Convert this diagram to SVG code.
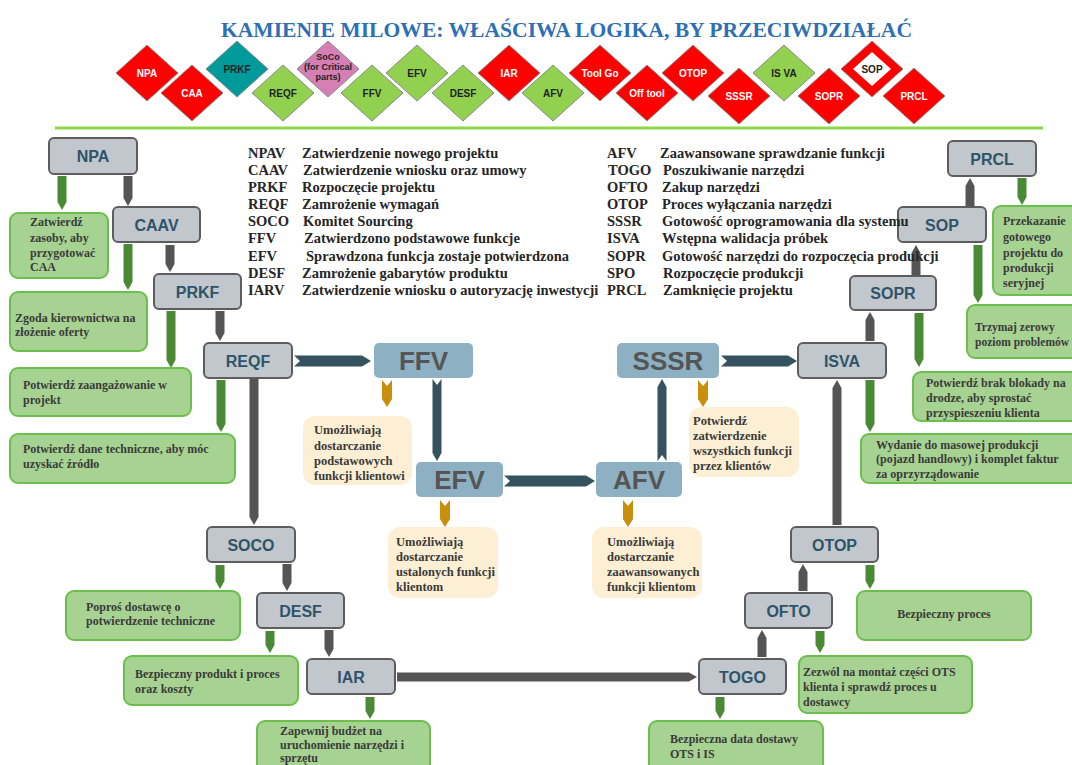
<svg xmlns="http://www.w3.org/2000/svg" width="1072" height="765" viewBox="0 0 1072 765">
<defs>
<style>
.title{font-family:"Liberation Serif",serif;font-weight:bold;font-size:21.6px;fill:#2e6fb5}
.dm{stroke:#8a8a8a;stroke-width:1}
.red{fill:#ff0000}.grn{fill:#92d050}.teal{fill:#009a9a}.pink{fill:#d67fb5}
.dtw{font-family:"Liberation Sans",Arial,sans-serif;font-weight:bold;font-size:10px;fill:#fff;text-anchor:middle}
.dtk{font-family:"Liberation Sans",Arial,sans-serif;font-weight:bold;font-size:10px;fill:#222;text-anchor:middle}
.leg{font-family:"Liberation Serif",serif;font-weight:bold;font-size:14.5px;fill:#262626}
.gb{fill:#c1c7cd;stroke:#5d5d5d;stroke-width:2}
.gbt{font-family:"Liberation Sans",Arial,sans-serif;font-weight:bold;font-size:16px;fill:#2e5468;text-anchor:middle}
.bb{fill:#8db0c2}
.bbt{font-family:"Liberation Sans",Arial,sans-serif;font-weight:bold;font-size:26px;fill:#555;text-anchor:middle}
.yb{fill:#fdefd3}
.gn{fill:#a6d392;stroke:#6cbf4c;stroke-width:2}
.tx{font-family:"Liberation Serif",serif;font-weight:bold;font-size:12px;fill:#3a3a3a}
.ty{font-family:"Liberation Serif",serif;font-weight:bold;font-size:12.5px;fill:#3a3a3a}
.ga{fill:#4a8a35}
.da{fill:#555}
.ta{fill:#34525f}
.oa{fill:#c98f0c}
</style>
</defs>
<rect width="1072" height="765" fill="#fff"/>
<text class="title" x="566.5" y="37" text-anchor="middle">KAMIENIE MILOWE: WŁAŚCIWA LOGIKA, BY PRZECIWDZIAŁAĆ</text>

<g id="milestones">
<g id="m-npa"><polygon class="dm red" points="147,45 178,73 147,101 116,73"/><text class="dtw" x="147" y="77">NPA</text></g>
<g id="m-caa"><polygon class="dm red" points="192,65 223,93 192,121 161,93"/><text class="dtw" x="192" y="97">CAA</text></g>
<g id="m-prkf"><polygon class="dm teal" points="237,41 268,69 237,97 206,69"/><text class="dtk" x="237" y="73">PRKF</text></g>
<g id="m-reqf"><polygon class="dm grn" points="283,65 314,93 283,121 252,93"/><text class="dtk" x="283" y="97">REQF</text></g>
<g id="m-soco"><polygon class="dm pink" points="328,41 359,69 328,97 297,69"/><text class="dtk" x="328" y="60" style="font-size:9px">SoCo</text><text class="dtk" x="328" y="70" style="font-size:9px">(for Critical</text><text class="dtk" x="328" y="80" style="font-size:9px">parts)</text></g>
<g id="m-ffv"><polygon class="dm grn" points="372,65 403,93 372,121 341,93"/><text class="dtk" x="372" y="97">FFV</text></g>
<g id="m-efv"><polygon class="dm grn" points="417,45 448,73 417,101 386,73"/><text class="dtk" x="417" y="77">EFV</text></g>
<g id="m-desf"><polygon class="dm grn" points="463,65 494,93 463,121 432,93"/><text class="dtk" x="463" y="97">DESF</text></g>
<g id="m-iar"><polygon class="dm red" points="509,45 540,73 509,101 478,73"/><text class="dtw" x="509" y="77">IAR</text></g>
<g id="m-afv"><polygon class="dm grn" points="553,65 584,93 553,121 522,93"/><text class="dtk" x="553" y="97">AFV</text></g>
<g id="m-toolgo"><polygon class="dm red" points="600,45 631,73 600,101 569,73"/><text class="dtw" x="600" y="77">Tool Go</text></g>
<g id="m-offtool"><polygon class="dm red" points="647,65 678,93 647,121 616,93"/><text class="dtw" x="647" y="97">Off tool</text></g>
<g id="m-otop"><polygon class="dm red" points="693,45 724,73 693,101 662,73"/><text class="dtw" x="693" y="77">OTOP</text></g>
<g id="m-sssr"><polygon class="dm red" points="739,68 770,96 739,124 708,96"/><text class="dtw" x="739" y="100">SSSR</text></g>
<g id="m-isva"><polygon class="dm grn" points="784,45 815,73 784,101 753,73"/><text class="dtk" x="784" y="77">IS VA</text></g>
<g id="m-sopr"><polygon class="dm red" points="829,68 860,96 829,124 798,96"/><text class="dtw" x="829" y="100">SOPR</text></g>
<g id="m-sop"><polygon class="dm red" points="872,41 903,69 872,97 841,69"/><polygon fill="#fff" points="872,52 891,69 872,86 853,69"/><text class="dtk" x="872" y="73">SOP</text></g>
<g id="m-prcl"><polygon class="dm red" points="914,68 945,96 914,124 883,96"/><text class="dtw" x="914" y="100">PRCL</text></g>
</g>
<line x1="55" y1="128" x2="1043" y2="128" stroke="#8ed84a" stroke-width="3"/>

<g id="connectors">
<polygon class="ga" points="57.5,176 66.5,176 66.5,202 62,210 57.5,202"/>
<polygon class="ga" points="123.5,244 132.5,244 132.5,282 128,290 123.5,282"/>
<polygon class="ga" points="166.5,311 175.5,311 175.5,360 171,368 166.5,360"/>
<polygon class="ga" points="216.5,380 225.5,380 225.5,424 221,432 216.5,424"/>
<polygon class="ga" points="215.5,565 224.5,565 224.5,581 220,589 215.5,581"/>
<polygon class="ga" points="265.5,631 274.5,631 274.5,645 270,653 265.5,645"/>
<polygon class="ga" points="365.5,697 374.5,697 374.5,711 370,719 365.5,711"/>
<polygon class="ga" points="715.5,697 724.5,697 724.5,711 720,719 715.5,711"/>
<polygon class="ga" points="815.5,631 824.5,631 824.5,645 820,653 815.5,645"/>
<polygon class="ga" points="865.5,565 874.5,565 874.5,581 870,589 865.5,581"/>
<polygon class="ga" points="865.5,380 874.5,380 874.5,424 870,432 865.5,424"/>
<polygon class="ga" points="914.5,313 923.5,313 923.5,359 919,367 914.5,359"/>
<polygon class="ga" points="973.5,245 982.5,245 982.5,295 978,303 973.5,295"/>
<polygon class="ga" points="1017.5,178 1026.5,178 1026.5,197 1022,205 1017.5,197"/>

<polygon class="da" points="123.5,176 132.5,176 132.5,198 128,206 123.5,198"/>
<polygon class="da" points="165.5,245 174.5,245 174.5,264 170,272 165.5,264"/>
<polygon class="da" points="215.5,311 224.5,311 224.5,333 220,341 215.5,333"/>
<polygon class="da" points="249.5,379 258.5,379 258.5,517 254,525 249.5,517"/>
<polygon class="da" points="282.5,564 291.5,564 291.5,583 287,591 282.5,583"/>
<polygon class="da" points="324.5,630 333.5,630 333.5,649 329,657 324.5,649"/>
<polygon class="da" points="397,672.5 689,672.5 697,677 689,681.5 397,681.5"/>
<polygon class="da" points="757.5,657 766.5,657 766.5,638 762,630 757.5,638"/>
<polygon class="da" points="798.5,591 807.5,591 807.5,572 803,564 798.5,572"/>
<polygon class="da" points="832.5,525 841.5,525 841.5,388 837,380 832.5,388"/>
<polygon class="da" points="865.5,341 874.5,341 874.5,320 870,312 865.5,320"/>
<polygon class="da" points="911.5,275 920.5,275 920.5,253 916,245 911.5,253"/>
<polygon class="da" points="965.5,206 974.5,206 974.5,186 970,178 965.5,186"/>

<polygon class="ta" points="294,355.5 362,355.5 371,361 362,366.5 294,366.5 300,361"/>
<polygon class="ta" points="721,355.5 788,355.5 797,361 788,366.5 721,366.5 727,361"/>
<polygon class="ta" points="504,475.5 586,475.5 595,481 586,486.5 504,486.5 510,481"/>
<polygon class="ta" points="432.5,379 437,385 441.5,379 441.5,453 437,461 432.5,453"/>
<polygon class="ta" points="657.5,461 662,455 666.5,461 666.5,387 662,379 657.5,387"/>

<polygon class="oa" points="382,380 387,386 392,380 392,399 387,407 382,399"/>
<polygon class="oa" points="698,380 703,386 708,380 708,399 703,407 698,399"/>
<polygon class="oa" points="440,500 445,506 450,500 450,519 445,527 440,519"/>
<polygon class="oa" points="623,500 628,506 633,500 633,519 628,527 623,519"/>
</g>

<g id="n-npa"><rect class="gb" x="49" y="138" width="88" height="36" rx="5"/><text class="gbt" x="93" y="162">NPA</text></g>
<g id="n-caav"><rect class="gb" x="113" y="207" width="87" height="35" rx="5"/><text class="gbt" x="156.5" y="230.5">CAAV</text></g>
<g id="n-prkf"><rect class="gb" x="154" y="274" width="87" height="35" rx="5"/><text class="gbt" x="197.5" y="297.5">PRKF</text></g>
<g id="n-reqf"><rect class="gb" x="204" y="343" width="88" height="35" rx="5"/><text class="gbt" x="248" y="366.5">REQF</text></g>
<g id="n-soco"><rect class="gb" x="207" y="527" width="88" height="35" rx="5"/><text class="gbt" x="251" y="550.5">SOCO</text></g>
<g id="n-desf"><rect class="gb" x="257" y="593" width="87" height="35" rx="5"/><text class="gbt" x="300.5" y="616.5">DESF</text></g>
<g id="n-iar"><rect class="gb" x="307" y="659" width="88" height="35" rx="5"/><text class="gbt" x="351" y="682.5">IAR</text></g>
<g id="n-togo"><rect class="gb" x="699" y="659" width="87" height="35" rx="5"/><text class="gbt" x="742.5" y="682.5">TOGO</text></g>
<g id="n-ofto"><rect class="gb" x="745" y="593" width="87" height="35" rx="5"/><text class="gbt" x="788.5" y="616.5">OFTO</text></g>
<g id="n-otop"><rect class="gb" x="791" y="527" width="87" height="35" rx="5"/><text class="gbt" x="834.5" y="550.5">OTOP</text></g>
<g id="n-isva"><rect class="gb" x="798" y="343" width="88" height="35" rx="5"/><text class="gbt" x="842" y="366.5">ISVA</text></g>
<g id="n-sopr"><rect class="gb" x="850" y="276" width="86" height="34" rx="5"/><text class="gbt" x="893" y="299">SOPR</text></g>
<g id="n-sop"><rect class="gb" x="898" y="207" width="88" height="35" rx="5"/><text class="gbt" x="942" y="230.5">SOP</text></g>
<g id="n-prcl"><rect class="gb" x="948" y="141" width="88" height="35" rx="5"/><text class="gbt" x="992" y="164.5">PRCL</text></g>

<g id="n-ffv"><rect class="bb" x="374" y="343" width="99" height="35" rx="5"/><text class="bbt" x="423.5" y="370">FFV</text></g>
<g id="n-sssr"><rect class="bb" x="617" y="343" width="102" height="35" rx="5"/><text class="bbt" x="668" y="370">SSSR</text></g>
<g id="n-efv"><rect class="bb" x="416" y="462" width="87" height="35" rx="5"/><text class="bbt" x="459.5" y="489">EFV</text></g>
<g id="n-afv"><rect class="bb" x="596" y="462" width="86" height="35" rx="5"/><text class="bbt" x="639" y="489">AFV</text></g>

<g id="b-ffv"><rect class="yb" x="303" y="416" width="109" height="69" rx="12"/><text class="ty"><tspan x="314" y="434">Umożliwiają</tspan><tspan x="314" y="450">dostarczanie</tspan><tspan x="314" y="465">podstawowych</tspan><tspan x="314" y="480">funkcji klientowi</tspan></text></g>
<g id="b-sssr"><rect class="yb" x="689" y="407" width="110" height="70" rx="12"/><text class="ty"><tspan x="693" y="425">Potwierdź</tspan><tspan x="693" y="440">zatwierdzenie</tspan><tspan x="693" y="455">wszystkich funkcji</tspan><tspan x="693" y="470">przez klientów</tspan></text></g>
<g id="b-efv"><rect class="yb" x="388" y="527" width="110" height="71" rx="12"/><text class="ty"><tspan x="396" y="546">Umożliwiają</tspan><tspan x="396" y="561">dostarczanie</tspan><tspan x="396" y="576">ustalonych funkcji</tspan><tspan x="396" y="591">klientom</tspan></text></g>
<g id="b-afv"><rect class="yb" x="592" y="527" width="110" height="71" rx="12"/><text class="ty"><tspan x="607" y="546">Umożliwiają</tspan><tspan x="607" y="561">dostarczanie</tspan><tspan x="607" y="576">zaawansowanych</tspan><tspan x="607" y="591">funkcji klientom</tspan></text></g>

<g id="g-npa"><rect class="gn" x="10" y="213" width="98" height="65" rx="8"/><text class="tx"><tspan x="30" y="226">Zatwierdź</tspan><tspan x="30" y="242">zasoby, aby</tspan><tspan x="30" y="257">przygotować</tspan><tspan x="30" y="271">CAA</tspan></text></g>
<g id="g-caav"><rect class="gn" x="10" y="292" width="137" height="59" rx="8"/><text class="tx"><tspan x="15" y="322">Zgoda kierownictwa na</tspan><tspan x="15" y="336">złożenie oferty</tspan></text></g>
<g id="g-prkf"><rect class="gn" x="10" y="368" width="181" height="48" rx="8"/><text class="tx"><tspan x="23" y="389">Potwierdź zaangażowanie w</tspan><tspan x="23" y="404">projekt</tspan></text></g>
<g id="g-reqf"><rect class="gn" x="10" y="434" width="225" height="49" rx="8"/><text class="tx"><tspan x="23" y="453">Potwierdź dane techniczne, aby móc</tspan><tspan x="23" y="468">uzyskać źródło</tspan></text></g>
<g id="g-soco"><rect class="gn" x="66" y="591" width="174" height="49" rx="8"/><text class="tx"><tspan x="86" y="611">Poproś dostawcę o</tspan><tspan x="86" y="625">potwierdzenie techniczne</tspan></text></g>
<g id="g-desf"><rect class="gn" x="124" y="656" width="174" height="49" rx="8"/><text class="tx"><tspan x="135" y="678">Bezpieczny produkt i proces</tspan><tspan x="135" y="693">oraz koszty</tspan></text></g>
<g id="g-iar"><rect class="gn" x="257" y="721" width="173" height="52" rx="8"/><text class="tx"><tspan x="280" y="735">Zapewnij budżet na</tspan><tspan x="280" y="749">uruchomienie narzędzi i</tspan><tspan x="280" y="762">sprzętu</tspan></text></g>
<g id="g-togo"><rect class="gn" x="649" y="721" width="174" height="52" rx="8"/><text class="tx"><tspan x="670" y="743">Bezpieczna data dostawy</tspan><tspan x="670" y="758">OTS i IS</tspan></text></g>
<g id="g-ofto"><rect class="gn" x="799" y="656" width="173" height="57" rx="8"/><text class="tx"><tspan x="803" y="676">Zezwól na montaż części OTS</tspan><tspan x="803" y="691">klienta i sprawdź proces u</tspan><tspan x="803" y="706">dostawcy</tspan></text></g>
<g id="g-otop"><rect class="gn" x="857" y="591" width="174" height="49" rx="8"/><text class="tx" x="944" y="618" text-anchor="middle">Bezpieczny proces</text></g>
<g id="g-isva"><rect class="gn" x="861" y="434" width="220" height="49" rx="8"/><text class="tx"><tspan x="876" y="449">Wydanie do masowej produkcji</tspan><tspan x="876" y="463">(pojazd handlowy) i komplet faktur</tspan><tspan x="876" y="478">za oprzyrządowanie</tspan></text></g>
<g id="g-sopr"><rect class="gn" x="913" y="372" width="168" height="49" rx="8"/><text class="tx"><tspan x="926" y="387">Potwierdź brak blokady na</tspan><tspan x="926" y="402">drodze, aby sprostać</tspan><tspan x="926" y="417">przyspieszeniu klienta</tspan></text></g>
<g id="g-sop"><rect class="gn" x="967" y="305" width="114" height="53" rx="8"/><text class="tx" style="font-size:11.5px"><tspan x="975" y="331">Trzymaj zerowy</tspan><tspan x="975" y="346">poziom problemów</tspan></text></g>
<g id="g-prcl"><rect class="gn" x="993" y="206" width="88" height="89" rx="8"/><text class="tx"><tspan x="1003" y="225">Przekazanie</tspan><tspan x="1003" y="241">gotowego</tspan><tspan x="1003" y="257">projektu do</tspan><tspan x="1003" y="272">produkcji</tspan><tspan x="1003" y="287">seryjnej</tspan></text></g>

<g id="legend">
<text class="leg"><tspan x="248" y="158">NPAV</tspan><tspan x="248" y="175">CAAV</tspan><tspan x="248" y="192">PRKF</tspan><tspan x="248" y="209">REQF</tspan><tspan x="248" y="226">SOCO</tspan><tspan x="248" y="243">FFV</tspan><tspan x="248" y="261">EFV</tspan><tspan x="248" y="278">DESF</tspan><tspan x="248" y="295">IARV</tspan></text>
<text class="leg"><tspan x="302" y="158">Zatwierdzenie nowego projektu</tspan><tspan x="303" y="175">Zatwierdzenie wniosku oraz umowy</tspan><tspan x="302" y="192">Rozpoczęcie projektu</tspan><tspan x="302" y="209">Zamrożenie wymagań</tspan><tspan x="303" y="226">Komitet Sourcing</tspan><tspan x="304" y="243">Zatwierdzono podstawowe funkcje</tspan><tspan x="306" y="261">Sprawdzona funkcja zostaje potwierdzona</tspan><tspan x="302" y="278">Zamrożenie gabarytów produktu</tspan><tspan x="302" y="295">Zatwierdzenie wniosku o autoryzację inwestycji</tspan></text>
<text class="leg"><tspan x="607" y="158">AFV</tspan><tspan x="608" y="175">TOGO</tspan><tspan x="607" y="192">OFTO</tspan><tspan x="607" y="209">OTOP</tspan><tspan x="607" y="226">SSSR</tspan><tspan x="607" y="243">ISVA</tspan><tspan x="607" y="261">SOPR</tspan><tspan x="607" y="278">SPO</tspan><tspan x="607" y="295">PRCL</tspan></text>
<text class="leg"><tspan x="660" y="158">Zaawansowane sprawdzanie funkcji</tspan><tspan x="663" y="175">Poszukiwanie narzędzi</tspan><tspan x="662" y="192">Zakup narzędzi</tspan><tspan x="662" y="209">Proces wyłączania narzędzi</tspan><tspan x="662" y="226">Gotowość oprogramowania dla systemu</tspan><tspan x="662" y="243">Wstępna walidacja próbek</tspan><tspan x="662" y="261">Gotowość narzędzi do rozpoczęcia produkcji</tspan><tspan x="663" y="278">Rozpoczęcie produkcji</tspan><tspan x="663" y="295">Zamknięcie projektu</tspan></text>
</g>
</svg>
